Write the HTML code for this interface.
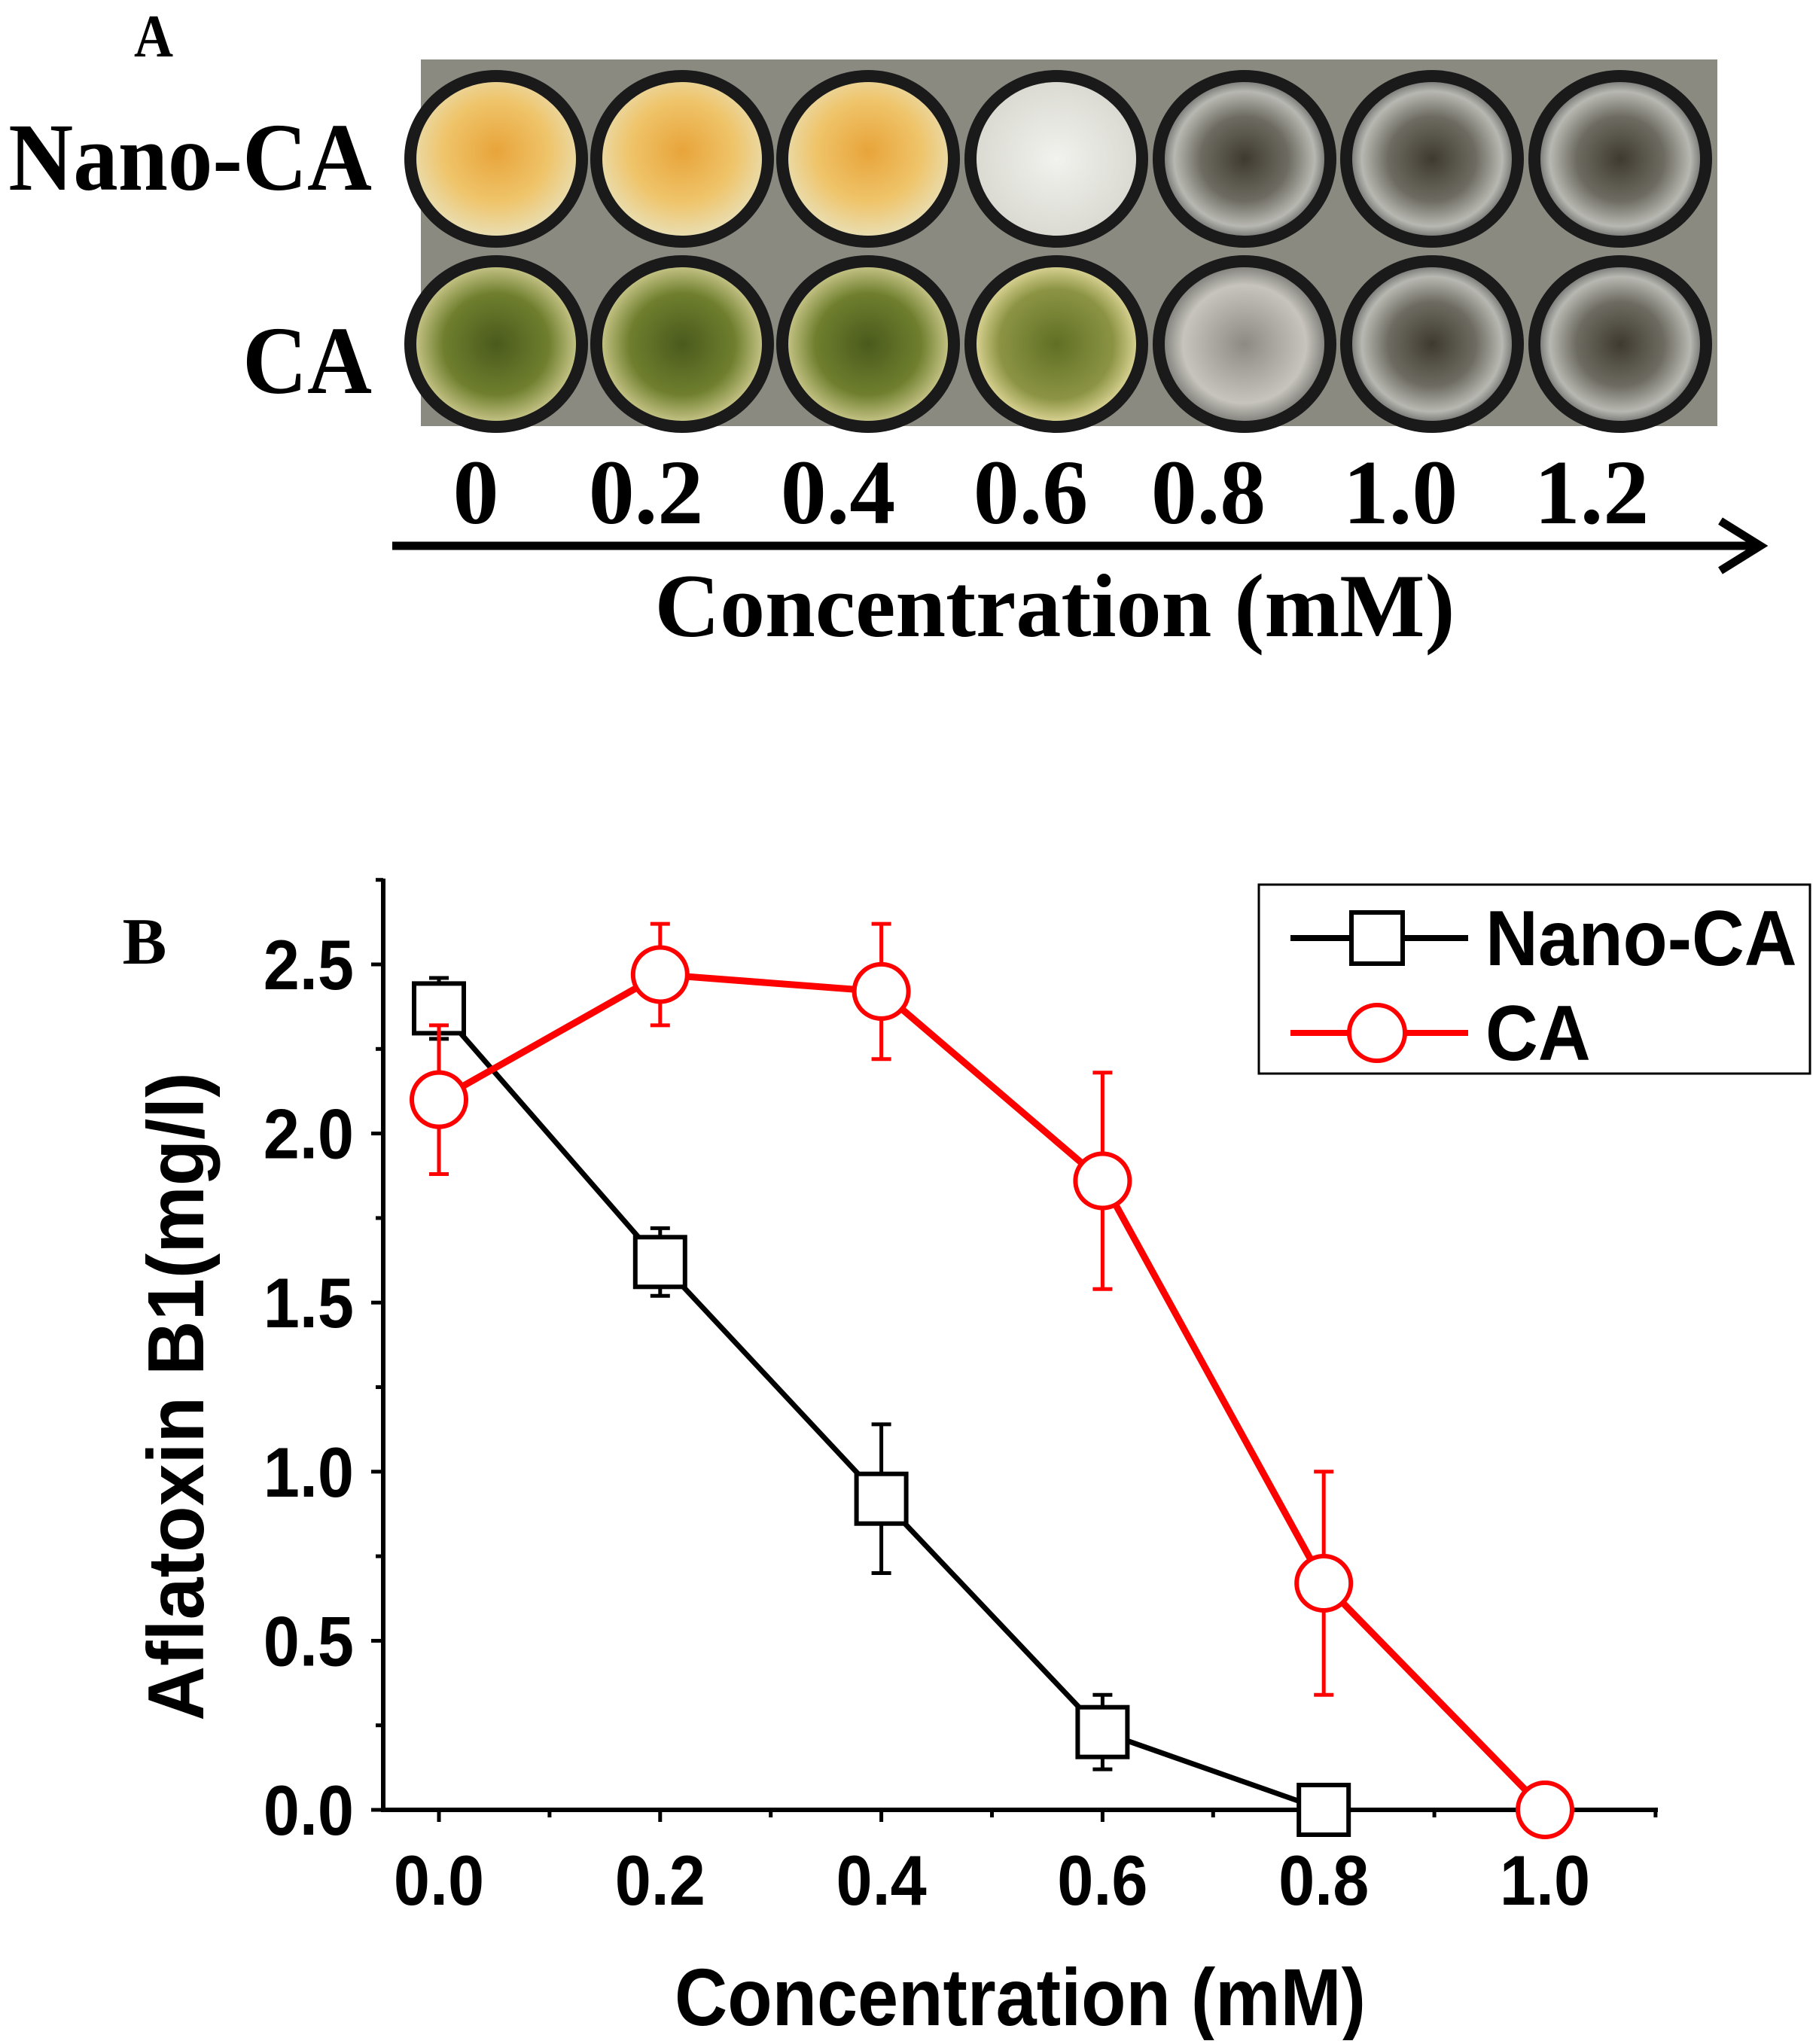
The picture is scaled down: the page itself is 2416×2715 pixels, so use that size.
<!DOCTYPE html>
<html><head><meta charset="utf-8"><style>
html,body{margin:0;padding:0;background:#fff;}
body{width:2416px;height:2710px;position:relative;overflow:hidden;}
</style></head><body>
<svg width="2416" height="2710" viewBox="0 0 2416 2710" xmlns="http://www.w3.org/2000/svg">
<defs>
<radialGradient id="orange" cx="50%" cy="45%" r="55%"><stop offset="0" stop-color="#e8a43a"/><stop offset="0.6" stop-color="#efc46a"/><stop offset="1" stop-color="#e9ddb0"/></radialGradient>
<radialGradient id="white" cx="50%" cy="50%" r="55%"><stop offset="0" stop-color="#f2f2ee"/><stop offset="1" stop-color="#d8d8d0"/></radialGradient>
<radialGradient id="green" cx="50%" cy="50%" r="55%"><stop offset="0" stop-color="#4a5a1c"/><stop offset="0.6" stop-color="#6f7f2e"/><stop offset="1" stop-color="#d9d39a"/></radialGradient>
<radialGradient id="greenl" cx="50%" cy="50%" r="55%"><stop offset="0" stop-color="#5f6f24"/><stop offset="0.65" stop-color="#8c9444"/><stop offset="1" stop-color="#eee3a8"/></radialGradient>
<radialGradient id="clear" cx="50%" cy="50%" r="55%"><stop offset="0" stop-color="#3e3a30"/><stop offset="0.5" stop-color="#6e6c62"/><stop offset="0.8" stop-color="#b8b8b2"/><stop offset="1" stop-color="#505050"/></radialGradient>
<radialGradient id="cloudy" cx="50%" cy="50%" r="55%"><stop offset="0" stop-color="#8c8a82"/><stop offset="0.7" stop-color="#c6c4bc"/><stop offset="1" stop-color="#6a6a66"/></radialGradient>
</defs>

<!-- Panel A -->
<text transform="translate(204,75) scale(0.9,1)" font-family="Liberation Serif, serif" font-weight="bold" font-size="80" text-anchor="middle">A</text>
<text transform="translate(494,252) scale(0.93,1)" font-family="Liberation Serif, serif" font-weight="bold" font-size="128" text-anchor="end">Nano-CA</text>
<text transform="translate(494,522) scale(0.93,1)" font-family="Liberation Serif, serif" font-weight="bold" font-size="128" text-anchor="end">CA</text>

<g>
<rect x="559" y="79" width="1722" height="487" fill="#8a8a80"/>
<g id="wells"></g>
</g>

<g font-family="Liberation Serif, serif" font-weight="bold" font-size="122" text-anchor="middle">
<text x="632" y="695">0</text><text x="858" y="695">0.2</text><text x="1113" y="695">0.4</text><text x="1369" y="695">0.6</text><text x="1605" y="695">0.8</text><text x="1860" y="695">1.0</text><text x="2114" y="695">1.2</text>
</g>
<g>
<line x1="521" y1="725" x2="2330" y2="725" stroke="#000" stroke-width="11"/>
<polyline points="2285,692 2338,725 2285,758" fill="none" stroke="#000" stroke-width="11"/>
</g>
<text x="1401" y="845" font-family="Liberation Serif, serif" font-weight="bold" font-size="120" text-anchor="middle">Concentration (mM)</text>

<!-- Panel B -->
<text x="192" y="1280" font-family="Liberation Serif, serif" font-weight="bold" font-size="88" text-anchor="middle">B</text>
<g id="chart"></g>
<text transform="translate(270,1855) rotate(-90) scale(0.95,1)" font-family="Liberation Sans, sans-serif" font-weight="bold" font-size="106" text-anchor="middle">Aflatoxin B1(mg/l)</text>
<text transform="translate(1355,2690) scale(0.9,1)" font-family="Liberation Sans, sans-serif" font-weight="bold" font-size="108" text-anchor="middle">Concentration (mM)</text>

<g>
<rect x="1672" y="1175" width="732" height="251" fill="#fff" stroke="#000" stroke-width="3"/>
<g>
<line x1="1714" y1="1246" x2="1950" y2="1246" stroke="#000" stroke-width="8"/>
<rect x="1795" y="1212" width="68" height="68" fill="#fff" stroke="#000" stroke-width="6"/>
<text transform="translate(1973,1282) scale(0.93,1)" font-family="Liberation Sans, sans-serif" font-weight="bold" font-size="104">Nano-CA</text>
</g>
<g>
<line x1="1714" y1="1372" x2="1950" y2="1372" stroke="#f00" stroke-width="8"/>
<circle cx="1829" cy="1372" r="37" fill="#fff" stroke="#f00" stroke-width="6"/>
<text transform="translate(1973,1408) scale(0.93,1)" font-family="Liberation Sans, sans-serif" font-weight="bold" font-size="104">CA</text>
</g>
</g>
</svg>
<script>
const NS='http://www.w3.org/2000/svg';
// wells
const wellX=[659,906,1153,1403,1653,1902,2152];
const row1=['orange','orange','orange','white','clear','clear','clear'];
const row2=['green','green','green','greenl','cloudy','clear','clear'];
const wg=document.getElementById('wells');
[[211,row1],[457,row2]].forEach(([cy,fills],ri)=>{
  fills.forEach((f,i)=>{
    const o=document.createElementNS(NS,'ellipse');
    o.setAttribute('cx',wellX[i]);o.setAttribute('cy',cy);o.setAttribute('rx',122);o.setAttribute('ry',118);
    o.setAttribute('fill','#1a1a1a');
    
    
    wg.appendChild(o);
    const c=document.createElementNS(NS,'ellipse');
    c.setAttribute('cx',wellX[i]);c.setAttribute('cy',cy);c.setAttribute('rx',106);c.setAttribute('ry',102);
    c.setAttribute('fill','url(#'+f+')');
    
    
    wg.appendChild(c);
  });
});

// chart data
const xCats=[0,0.2,0.4,0.6,0.8,1.0];
const nanoVals=[2.37,1.62,0.92,0.23,0.0];
const nanoErr=[0.09,0.1,0.22,0.11,0];
const caVals=[2.10,2.47,2.42,1.86,0.67,0.0];
const caErr=[0.22,0.15,0.2,0.32,0.33,0];
const xTicks=['0.0','0.2','0.4','0.6','0.8','1.0'];
const yTicks=['0.0','0.5','1.0','1.5','2.0','2.5'];

const X=v=>583+v*(2052-583);
const Y=v=>2404-v*(2404-1281)/2.5;
const g=document.getElementById('chart');
function el(t,a){const e=document.createElementNS(NS,t);for(const k in a)e.setAttribute(k,a[k]);g.appendChild(e);return e;}

// axes
let ax=el('line',{x1:509,y1:1167,x2:509,y2:2407,stroke:'#000','stroke-width':6});


ax=el('line',{x1:506,y1:2404,x2:2202,y2:2404,stroke:'#000','stroke-width':6});


for(let i=0;i<=11;i++){const v=i*0.25;const y=Y(v);
  const t=el('line',{x1:509,y1:y,x2:i%2==0?493:499,y2:y,stroke:'#000','stroke-width':5});
  
  }
for(let i=0;i<=13;i++){const v=i*0.1-0.1;const x=X(v);if(x<509||x>2202)continue;
  const t=el('line',{x1:x,y1:2404,x2:x,y2:(Math.round(v*10)%2==0)?2420:2414,stroke:'#000','stroke-width':5});
  
  }
yTicks.forEach(s=>{const t=el('text',{transform:`translate(470,${Y(parseFloat(s))+33}) scale(0.92,1)`,'font-family':'Liberation Sans, sans-serif','font-weight':'bold','font-size':94,'text-anchor':'end'});t.textContent=s;
  
  });
xTicks.forEach(s=>{const t=el('text',{transform:`translate(${X(parseFloat(s))},2530) scale(0.92,1)`,'font-family':'Liberation Sans, sans-serif','font-weight':'bold','font-size':94,'text-anchor':'middle'});t.textContent=s;
  
  });

function series(vals,errs,color,name,marker){
  const pts=vals.map((v,i)=>X(xCats[i])+','+Y(v)).join(' ');
  const l=el('polyline',{points:pts,fill:'none',stroke:color,'stroke-width':color==='#f00'?9:7,'stroke-linejoin':'round'});
  
  
  vals.forEach((v,i)=>{const x=X(xCats[i]);const e=errs[i];if(e>0){
    const p=el('path',{d:`M${x},${Y(v+e)}V${Y(v-e)}M${x-13},${Y(v+e)}h26M${x-13},${Y(v-e)}h26`,stroke:color,'stroke-width':5,fill:'none'});
    
    }});
  vals.forEach((v,i)=>{const x=X(xCats[i]),y=Y(v);let m;
    if(marker==='sq') m=el('rect',{x:x-33,y:y-33,width:66,height:66,fill:'#fff',stroke:color,'stroke-width':6});
    else m=el('circle',{cx:x,cy:y,r:36,fill:'#fff',stroke:color,'stroke-width':6});
    
    });
}
series(nanoVals,nanoErr,'#000','nano-ca','sq');
series(caVals,caErr,'#f00','ca','circle');
</script>
</body></html>
